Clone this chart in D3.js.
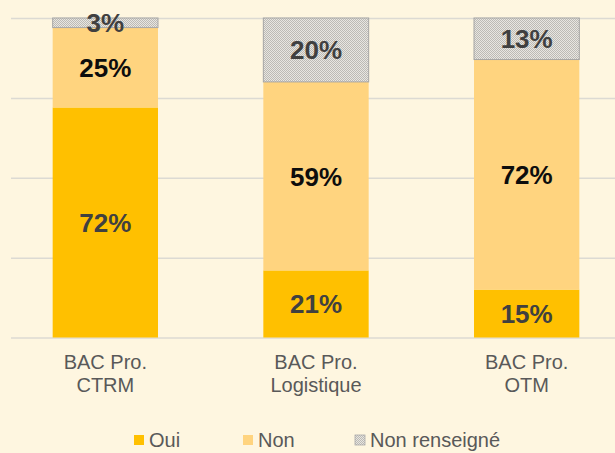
<!DOCTYPE html>
<html>
<head>
<meta charset="utf-8">
<script src="https://cdn.jsdelivr.net/npm/d3@7"></script>
<style>
  html, body { margin: 0; padding: 0; background: #fef6e0; }
  svg { display: block; font-family: "Liberation Sans", Arial, sans-serif; }
</style>
</head>
<body>
<div id="chart-area"></div>
<script>
const categories = [['BAC Pro.', 'CTRM'], ['BAC Pro.', 'Logistique'], ['BAC Pro.', 'OTM']];
const oui = [72, 21, 15];
const non = [25, 59, 72];
const nonRenseigne = [3, 20, 13];
const series = ['Oui', 'Non', 'Non renseigné'];
const gridTicks = [0, 25, 50, 75, 100];

const width = 615;
const height = 453;

const colours = {
  'Oui': '#ffc000',
  'Non': '#ffd47f',
  'Non renseigné': 'url(#dots)'
};
const labelColours = {
  'Oui': '#404040',
  'Non': '#0d0d0d',
  'Non renseigné': '#404040'
};

const rows = categories.map((c, i) => ({
  name: c.join(' '),
  'Oui': oui[i],
  'Non': non[i],
  'Non renseigné': nonRenseigne[i]
}));

const x = d3.scaleBand()
  .domain(rows.map(d => d.name))
  .range([0, 632])
  .paddingInner(0.5)
  .paddingOuter(0.25);

const y = d3.scaleLinear()
  .domain([0, 100])
  .range([337.5, 18]);

const svg = d3.select('#chart-area').append('svg')
  .attr('width', width)
  .attr('height', height);

svg.append('rect')
  .attr('width', width)
  .attr('height', height)
  .attr('fill', '#fef6e0');

// dotted fill for "Non renseigné"
const defs = svg.append('defs');
const pat = defs.append('pattern')
  .attr('id', 'dots')
  .attr('patternUnits', 'userSpaceOnUse')
  .attr('width', 2)
  .attr('height', 2);
pat.append('rect').attr('width', 2).attr('height', 2).attr('fill', '#e8e6e1');
pat.append('rect').attr('width', 1).attr('height', 1).attr('fill', '#bcbab5');
pat.append('rect').attr('x', 1).attr('y', 1).attr('width', 1).attr('height', 1).attr('fill', '#bcbab5');

// gridlines
const grid = svg.append('g')
  .attr('transform', 'translate(11,0)')
  .call(d3.axisLeft(y).tickValues(gridTicks).tickSize(-(width - 11)).tickFormat(''));
grid.select('.domain').remove();
grid.selectAll('line')
  .attr('stroke', '#dcdad3')
  .attr('stroke-width', 1.5);

const stacked = d3.stack().keys(series)(rows);

const layers = svg.append('g').selectAll('g')
  .data(stacked)
  .join('g');

layers.selectAll('rect')
  .data(s => s.map(d => ({ key: s.key, d })))
  .join('rect')
  .attr('x', e => x(e.d.data.name))
  .attr('y', e => y(e.d[1]))
  .attr('width', x.bandwidth())
  .attr('height', e => y(e.d[0]) - y(e.d[1]))
  .attr('fill', e => colours[e.key])
  .attr('stroke', e => e.key === 'Non renseigné' ? '#a6a6a6' : 'none')
  .attr('stroke-width', 1);

// value labels
layers.selectAll('text')
  .data(s => s.map(d => ({ key: s.key, d })))
  .join('text')
  .attr('x', e => x(e.d.data.name) + x.bandwidth() / 2)
  .attr('y', e => (y(e.d[0]) + y(e.d[1])) / 2)
  .attr('dy', '0.36em')
  .attr('text-anchor', 'middle')
  .attr('font-size', '26px')
  .attr('font-weight', 'bold')
  .attr('fill', e => labelColours[e.key])
  .text(e => (e.d[1] - e.d[0]) + '%');

// category labels
const xLabels = svg.append('g').selectAll('text')
  .data(rows.map((r, i) => ({ name: r.name, lines: categories[i] })))
  .join('text')
  .attr('x', d => x(d.name) + x.bandwidth() / 2)
  .attr('y', 369)
  .attr('text-anchor', 'middle')
  .attr('font-size', '20px')
  .attr('fill', '#595959');
xLabels.selectAll('tspan')
  .data(d => d.lines.map(l => ({ l, x: x(d.name) + x.bandwidth() / 2 })))
  .join('tspan')
  .attr('x', t => t.x)
  .attr('dy', (t, i) => i === 0 ? 0 : 23)
  .text(t => t.l);

// legend (kept just inside the bottom edge)
const legendX = [134, 243, 355];
const legend = svg.append('g');
series.forEach((s, i) => {
  const row = legend.append('g')
    .attr('transform', `translate(${legendX[i]}, 435)`);
  row.append('rect')
    .attr('width', 10)
    .attr('height', 10)
    .attr('fill', colours[s])
    .attr('stroke', s === 'Non renseigné' ? '#a6a6a6' : 'none')
    .attr('stroke-width', 0.75);
  row.append('text')
    .attr('x', 15)
    .attr('y', 12)
    .attr('font-size', '20px')
    .attr('fill', '#595959')
    .text(s);
});
</script>
</body>
</html>
